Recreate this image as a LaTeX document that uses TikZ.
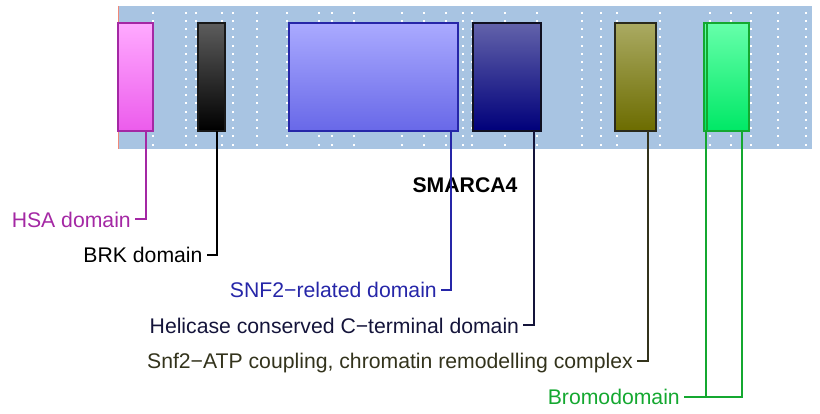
\documentclass[tikz,border=0pt]{standalone}
\usepackage{fontspec}
\setmainfont{Liberation Sans}
\definecolor{bandcol}{HTML}{A8C4E2}
\definecolor{edgecol}{HTML}{F08878}
\definecolor{hsacol}{HTML}{A428A4}
\definecolor{snfcol}{HTML}{2626A8}
\definecolor{helcol}{HTML}{14143A}
\definecolor{atpcol}{HTML}{33331C}
\definecolor{brocol}{HTML}{14A830}
\definecolor{hsatop}{HTML}{FFAAFF}
\definecolor{hsabot}{HTML}{EC5CEC}
\definecolor{brktop}{HTML}{5C5C5C}
\definecolor{brkedge}{HTML}{181818}
\definecolor{snftop}{HTML}{AAAAFF}
\definecolor{snfbot}{HTML}{6868E8}
\definecolor{heltop}{HTML}{6262AA}
\definecolor{helbot}{HTML}{00007A}
\definecolor{heledge}{HTML}{101020}
\definecolor{atptop}{HTML}{AAAA62}
\definecolor{atpbot}{HTML}{6C6C00}
\definecolor{atpedge}{HTML}{2A2A1C}
\definecolor{brotop}{HTML}{66FFAA}
\definecolor{brobot}{HTML}{00E866}
\begin{document}
\begin{tikzpicture}[x=1pt,y=-1pt,
  dom/.style={shade, draw, line width=1.7pt, inner sep=0pt, outer sep=0pt, anchor=north west, minimum height=107.4pt},
  lab/.style={anchor=east, font=\fontsize{21.2}{25}\selectfont, inner xsep=4pt, inner ysep=0pt, text height=15.2pt, text depth=0pt},
  conn/.style={line width=2pt}]
\useasboundingbox (0,0) rectangle (820,414);
% band
\fill[bandcol] (118,6) rectangle (811.7,148.7);
\draw[edgecol, line width=1pt] (118.5,6) -- (118.5,148.7);
% dotted grid columns
\foreach \x in {152.7,186,196,221.7,233.3,257,286.7,319,332,354,402.3,424.3,446,462.7,471.7,505,537.3,582,601.3,616.7,659.7,710,731.3,751.3,777.7,805.7}{
  \foreach \k in {0,...,16}{
    \fill[white] ({\x-1},{12.7+8.25*\k-1}) rectangle ++(2,2);
  }
}
% connector x positions
\coordinate (xhsa) at (146,0);
\coordinate (xbrk) at (217.3,0);
\coordinate (xsnf) at (450.5,0);
\coordinate (xhel) at (534,0);
\coordinate (xatp) at (648.3,0);
\coordinate (xbra) at (706,0);
\coordinate (xbrb) at (742.3,0);
% domain boxes
\node[dom, minimum width=35pt, top color=hsatop, bottom color=hsabot, draw=hsacol] (hsa) at (118.3,23.3) {};
\node[dom, minimum width=27pt, top color=brktop, bottom color=black, draw=brkedge] (brk) at (198.3,23.3) {};
\node[dom, minimum width=169pt, top color=snftop, bottom color=snfbot, draw=snfcol] (snf) at (289.3,23.3) {};
\node[dom, minimum width=68pt, top color=heltop, bottom color=helbot, draw=heledge] (hel) at (473.3,23.3) {};
\node[dom, minimum width=40.7pt, top color=atptop, bottom color=atpbot, draw=atpedge] (atp) at (615,23.3) {};
\node[dom, minimum width=9.5pt, top color=brotop, bottom color=brobot, draw=brocol] (broa) at (704.3,23.3) {};
\node[dom, minimum width=42.6pt, top color=brotop, bottom color=brobot, draw=brocol] (brob) at (706.7,23.3) {};
% title
\node[font=\bfseries\fontsize{21.2}{25}\selectfont, anchor=base, inner sep=0pt] (title) at (465,192.3) {SMARCA4};
% labels
\node[lab, text=hsacol] (lhsa) at (135,219.5) {HSA domain};
\node[lab, text=black] (lbrk) at (206.7,255.3) {BRK domain};
\node[lab, text=snfcol] (lsnf) at (441,290.3) {SNF2−related domain};
\node[lab, text=helcol] (lhel) at (523.3,325.5) {Helicase conserved C−terminal domain};
\node[lab, text=atpcol] (latp) at (637,361) {Snf2−ATP coupling, chromatin remodelling complex};
\node[lab, text=brocol] (lbro) at (684,396.7) {Bromodomain};
% connectors
\draw[conn, hsacol] (hsa.south -| xhsa) |- (lhsa.east);
\draw[conn, black] (brk.south -| xbrk) |- (lbrk.east);
\draw[conn, snfcol] (snf.south -| xsnf) |- (lsnf.east);
\draw[conn, helcol] (hel.south -| xhel) |- (lhel.east);
\draw[conn, atpcol] (atp.south -| xatp) |- (latp.east);
\draw[conn, brocol] (broa.south -| xbra) |- (lbro.east);
\draw[conn, brocol] (brob.south -| xbrb) |- (lbro.east);
\end{tikzpicture}
\end{document}
